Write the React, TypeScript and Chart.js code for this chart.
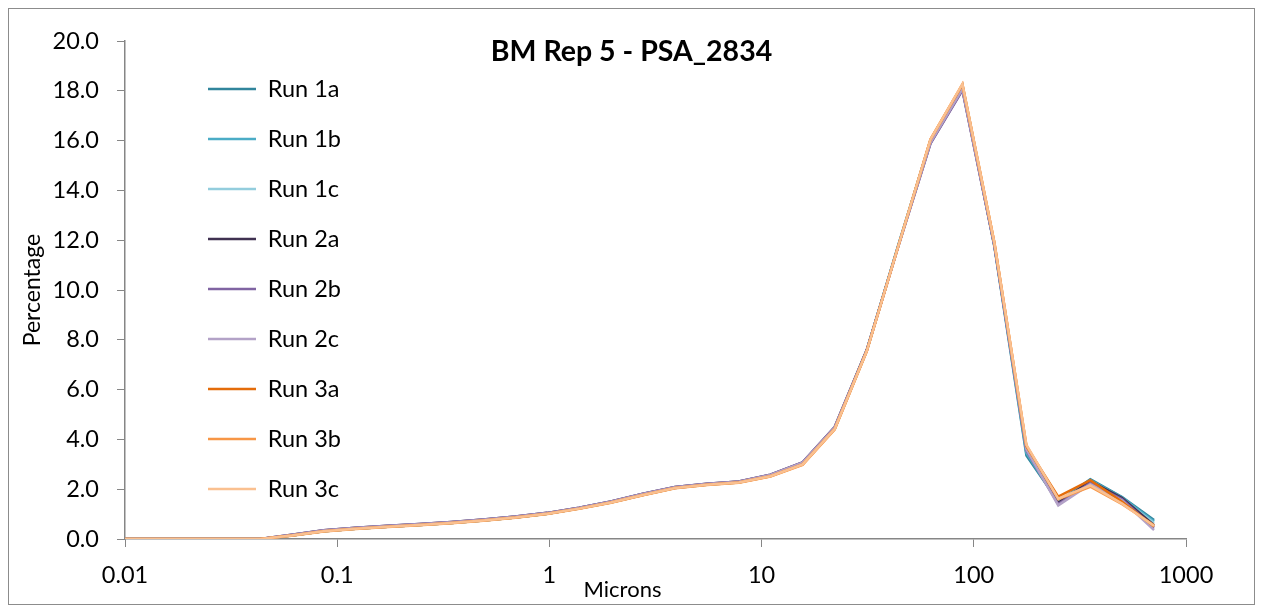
import React, { useEffect, useRef } from 'react';
import { Chart, registerables } from 'chart.js';

Chart.register(...registerables);

// particle size bins (microns)
const sizes = [0.0076, 0.0108, 0.0153, 0.0216, 0.0305, 0.0432, 0.061, 0.0863, 0.122, 0.173, 0.244, 0.345, 0.488, 0.691, 0.977, 1.38, 1.95, 2.76, 3.91, 5.52, 7.81, 11.0, 15.6, 22.1, 31.3, 44.2, 62.5, 88.4, 125, 177, 250, 354, 500, 707];

const run1a = [0, 0, 0, 0, 0, 0, 0.14, 0.31, 0.41, 0.49, 0.56, 0.64, 0.74, 0.86, 1.01, 1.23, 1.48, 1.78, 2.06, 2.19, 2.28, 2.54, 3.03, 4.45, 7.58, 11.85, 16.0, 18.2, 11.75, 3.35, 1.5, 2.4, 1.68, 0.76];
const run1b = [0, 0, 0, 0, 0, 0, 0.14, 0.31, 0.41, 0.49, 0.56, 0.64, 0.74, 0.86, 1.01, 1.23, 1.48, 1.78, 2.06, 2.19, 2.28, 2.54, 3.02, 4.44, 7.57, 11.83, 16.0, 18.2, 11.8, 3.45, 1.47, 2.36, 1.66, 0.7];
const run1c = [0, 0, 0, 0, 0, 0, 0.14, 0.31, 0.41, 0.49, 0.56, 0.64, 0.74, 0.86, 1.01, 1.22, 1.47, 1.77, 2.05, 2.18, 2.27, 2.53, 3.02, 4.43, 7.56, 11.82, 16.02, 18.22, 11.82, 3.55, 1.5, 2.3, 1.6, 0.64];
const run2a = [0, 0, 0, 0, 0, 0, 0.17, 0.35, 0.45, 0.53, 0.6, 0.68, 0.78, 0.9, 1.05, 1.26, 1.51, 1.82, 2.09, 2.22, 2.31, 2.58, 3.08, 4.5, 7.6, 11.8, 15.9, 18.05, 11.8, 3.6, 1.45, 2.32, 1.65, 0.55];
const run2b = [0, 0, 0, 0, 0, 0, 0.17, 0.35, 0.45, 0.53, 0.6, 0.68, 0.78, 0.9, 1.05, 1.26, 1.51, 1.82, 2.09, 2.22, 2.31, 2.58, 3.08, 4.5, 7.58, 11.78, 15.88, 18.02, 11.78, 3.55, 1.4, 2.25, 1.6, 0.45];
const run2c = [0, 0, 0, 0, 0, 0, 0.16, 0.34, 0.44, 0.52, 0.59, 0.67, 0.77, 0.89, 1.04, 1.25, 1.5, 1.81, 2.08, 2.21, 2.3, 2.57, 3.07, 4.48, 7.57, 11.79, 15.92, 18.08, 11.8, 3.6, 1.35, 2.2, 1.55, 0.36];
const run3a = [0, 0, 0, 0, 0, 0, 0.14, 0.31, 0.41, 0.49, 0.56, 0.64, 0.74, 0.86, 1.01, 1.22, 1.47, 1.77, 2.05, 2.18, 2.27, 2.52, 3.0, 4.42, 7.55, 11.8, 16.05, 18.25, 11.9, 3.72, 1.7, 2.36, 1.5, 0.5];
const run3b = [0, 0, 0, 0, 0, 0, 0.13, 0.3, 0.4, 0.48, 0.55, 0.63, 0.73, 0.85, 1.0, 1.21, 1.46, 1.76, 2.04, 2.17, 2.26, 2.51, 2.98, 4.4, 7.54, 11.8, 16.06, 18.27, 11.92, 3.76, 1.6, 2.1, 1.4, 0.55];
const run3c = [0, 0, 0, 0, 0, 0, 0.14, 0.31, 0.41, 0.49, 0.56, 0.64, 0.74, 0.86, 1.01, 1.22, 1.47, 1.77, 2.05, 2.18, 2.27, 2.52, 3.0, 4.42, 7.55, 11.8, 16.05, 18.28, 11.9, 3.78, 1.62, 2.15, 1.42, 0.52];

const seriesNames = ['Run 1a', 'Run 1b', 'Run 1c', 'Run 2a', 'Run 2b', 'Run 2c', 'Run 3a', 'Run 3b', 'Run 3c'];
const seriesColors = ['#31859C', '#4BACC6', '#93CDDD', '#403151', '#8064A2', '#B3A2C7', '#E46C0A', '#F79646', '#FAC090'];

const xTickValues = [0.01, 0.1, 1, 10, 100, 1000];
const xTickLabels = ['0.01', '0.1', '1', '10', '100', '1000'];

const chartTitle = 'BM Rep 5 - PSA_2834';
const xTitle = 'Microns';
const yTitle = 'Percentage';

const FONT = "Lato, 'Open Sans', sans-serif";
const AXIS = '#868686';

export default function App() {
  const ref = useRef<HTMLCanvasElement>(null);

  useEffect(() => {
    if (!ref.current) return;
    const series = [run1a, run1b, run1c, run2a, run2b, run2c, run3a, run3b, run3c];

    const placement = {
      id: 'placement',
      afterLayout(chart: any) {
        const lg = chart.legend;
        if (lg) {
          const w = lg.width;
          const h = lg.height;
          lg.left = 172.5;
          lg.top = 41.75;
          lg.right = lg.left + w;
          lg.bottom = lg.top + h;
        }
        const xs = chart.scales.x;
        if (xs && !xs.__titleShifted) {
          const orig = xs.drawTitle;
          xs.drawTitle = function () {
            const l = this.left;
            this.left = l - 66;
            orig.call(this);
            this.left = l;
          };
          xs.__titleShifted = true;
        }
      },
    };

    const chart = new Chart(ref.current, {
      type: 'line',
      data: {
        datasets: series.map((arr, i) => ({
          label: seriesNames[i],
          data: sizes.map((x, j) => ({ x, y: arr[j] })),
          borderColor: seriesColors[i],
          backgroundColor: seriesColors[i],
          borderWidth: 2.5,
          pointRadius: 0,
          pointHoverRadius: 0,
          tension: 0,
          fill: false,
          order: series.length - i,
        })),
      },
      options: {
        responsive: false,
        animation: false,
        events: [],
        layout: { padding: { left: 0, right: 0, top: 0, bottom: 0 } },
        scales: {
          x: {
            type: 'logarithmic',
            min: 0.01,
            max: 1000,
            afterBuildTicks: (s: any) => {
              s.ticks = xTickValues.map((v) => ({ value: v }));
            },
            afterFit: (s: any) => {
              s.height = 65;
            },
            ticks: {
              autoSkip: false,
              maxRotation: 0,
              padding: 14.5,
              color: '#000',
              font: { family: FONT, size: 23.5 },
              callback: (v: any) => {
                const k = xTickValues.indexOf(Number(v));
                return k >= 0 ? xTickLabels[k] : '';
              },
            },
            grid: { drawOnChartArea: false, drawTicks: true, tickLength: 8, color: AXIS, tickColor: AXIS },
            border: { color: AXIS, width: 1.5 },
            title: { display: true, text: xTitle, color: '#000', font: { family: FONT, size: 22 }, padding: { top: 0, bottom: 0.8 } },
          },
          y: {
            type: 'linear',
            min: 0,
            max: 20,
            afterFit: (s: any) => {
              s.width = 116;
            },
            ticks: {
              stepSize: 2,
              padding: 18,
              color: '#000',
              font: { family: FONT, size: 23.5 },
              callback: (v: any) => Number(v).toFixed(1),
            },
            grid: { drawOnChartArea: false, drawTicks: true, tickLength: 8, color: AXIS, tickColor: AXIS },
            border: { color: AXIS, width: 1.5 },
            title: { display: true, text: yTitle, color: '#000', font: { family: FONT, size: 23 }, padding: { top: 9.3, bottom: 0 } },
          },
          yRightSpace: {
            type: 'linear',
            position: 'right',
            display: true,
            afterFit: (s: any) => {
              s.width = 68;
            },
            ticks: { display: false },
            grid: { display: false, drawTicks: false },
            border: { display: false },
            title: { display: false },
          },
        },
        plugins: {
          title: {
            display: true,
            text: chartTitle,
            color: '#000',
            font: { family: FONT, size: 28.5, weight: 'bold' },
            padding: { top: 24.9, bottom: -28.1 },
          },
          legend: {
            display: true,
            position: 'chartArea',
            align: 'start',
            labels: {
              usePointStyle: true,
              pointStyle: 'line',
              pointStyleWidth: 48,
              boxHeight: 23.5,
              padding: 26.5,
              color: '#000',
              font: { family: FONT, size: 23.5 },
              sort: (a: any, b: any) => a.datasetIndex - b.datasetIndex,
            },
          },
          tooltip: { enabled: false },
        },
      } as any,
      plugins: [placement],
    });

    return () => chart.destroy();
  }, []);

  return (
    <div style={{ width: 1245, height: 595, border: '1px solid #8c8c8c', position: 'relative' }}>
      <canvas ref={ref} width={1245} height={595} style={{ display: 'block' }} />
    </div>
  );
}
